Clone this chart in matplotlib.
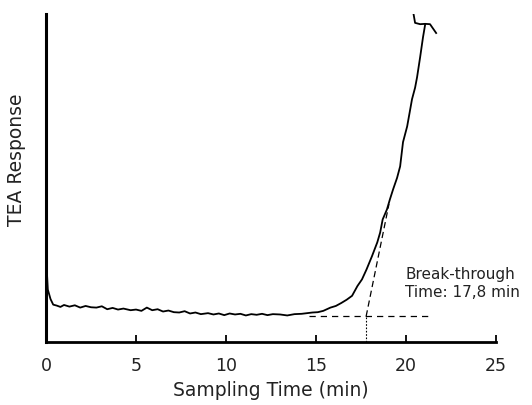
import matplotlib
matplotlib.use("Agg")
import matplotlib.pyplot as plt

# TEA detector trace (sampling time in min, response in arbitrary units)
time_min = [0.0, 0.0, 0.05, 0.1, 0.25, 0.4, 0.6, 0.8, 1.0, 1.3,
            1.6, 1.9, 2.2, 2.5, 2.8, 3.1, 3.4, 3.7, 4.0, 4.3,
            4.7, 5.0, 5.3, 5.6, 5.9, 6.2, 6.5, 6.8, 7.1, 7.4,
            7.7, 8.0, 8.3, 8.6, 9.0, 9.3, 9.6, 9.9, 10.2, 10.5,
            10.8, 11.1, 11.4, 11.7, 12.0, 12.3, 12.6, 13.0, 13.4, 13.8,
            14.2, 14.5, 14.8, 15.1, 15.4, 15.8, 16.1, 16.4, 16.7, 17.0,
            17.3, 17.55, 17.8, 18.1, 18.4, 18.56, 18.7, 18.94, 19.1, 19.28,
            19.5, 19.67, 19.83, 20.06, 20.2, 20.33, 20.5, 20.61, 20.78, 20.94,
            21.06]
response = [0.0, 18.0, 21.1, 15.9, 13.0, 11.3, 11.0, 10.6, 11.2, 10.7,
            11.1, 10.4, 10.9, 10.5, 10.4, 10.8, 9.9, 10.3, 9.8, 10.1,
            9.6, 9.8, 9.4, 10.4, 9.6, 9.9, 9.2, 9.5, 9.0, 8.9,
            9.3, 8.6, 8.9, 8.4, 8.7, 8.3, 8.6, 8.1, 8.6, 8.3,
            8.5, 8.0, 8.4, 8.2, 8.5, 8.1, 8.4, 8.3, 8.0, 8.4,
            8.5, 8.7, 8.9, 9.0, 9.4, 10.4, 10.9, 11.8, 12.8, 14.0,
            17.0, 19.0, 22.0, 26.0, 30.3, 33.3, 37.3, 40.4, 43.4, 46.5,
            50.0, 53.5, 60.9, 65.7, 70.0, 74.0, 77.5, 80.7, 86.8, 92.9,
            96.8]

# recorder pen hook at full scale
hook_x = [20.39, 20.5, 20.78, 21.06, 21.33, 21.67]
hook_y = [100.8, 97.3, 96.9, 97.0, 96.9, 94.2]

# break-through construction lines
baseline_x = [14.6, 21.4]
baseline_y = [7.7, 7.7]
tangent_x = [17.78, 19.05]
tangent_y = [7.7, 42.0]
breakthrough = 17.78

xticks = [0, 5, 10, 15, 20, 25]

fig = plt.figure(figsize=(5.32, 4.06), dpi=100)
ax = fig.add_axes([0.0865, 0.156, 0.846, 0.807])

ax.plot(time_min, response, color="black", lw=1.3)
ax.plot(hook_x, hook_y, color="black", lw=1.3)
ax.plot(baseline_x, baseline_y, color="black", lw=0.9, ls=(0, (5, 4)))
ax.plot(tangent_x, tangent_y, color="black", lw=0.9, ls=(0, (5, 3)))
ax.plot([breakthrough, breakthrough], [0, baseline_y[0]], color="black",
        lw=0.8, ls=(0, (1.5, 1.5)))

ax.text(19.95, 18.0, "Break-through\nTime: 17,8 min", fontsize=11,
        color="#222222", va="center", ha="left", linespacing=1.3)

ax.set_xlim(0, 25)
ax.set_ylim(0, 100)
ax.set_xticks(xticks)
ax.set_yticks([])
ax.tick_params(axis="x", direction="in", length=5, width=1.3,
               labelsize=12.5, pad=10, colors="black", labelcolor="#222222")

for side in ["top", "right"]:
    ax.spines[side].set_visible(False)
ax.spines["left"].set_linewidth(2.2)
ax.spines["bottom"].set_linewidth(2.0)

ax.set_xlabel("Sampling Time (min)", fontsize=13.5, color="#222222", labelpad=5)
ax.set_ylabel("TEA Response", fontsize=13.5, color="#222222")
ax.yaxis.set_label_coords(-0.045, 0.557)

fig.savefig("out.png", dpi=100)
